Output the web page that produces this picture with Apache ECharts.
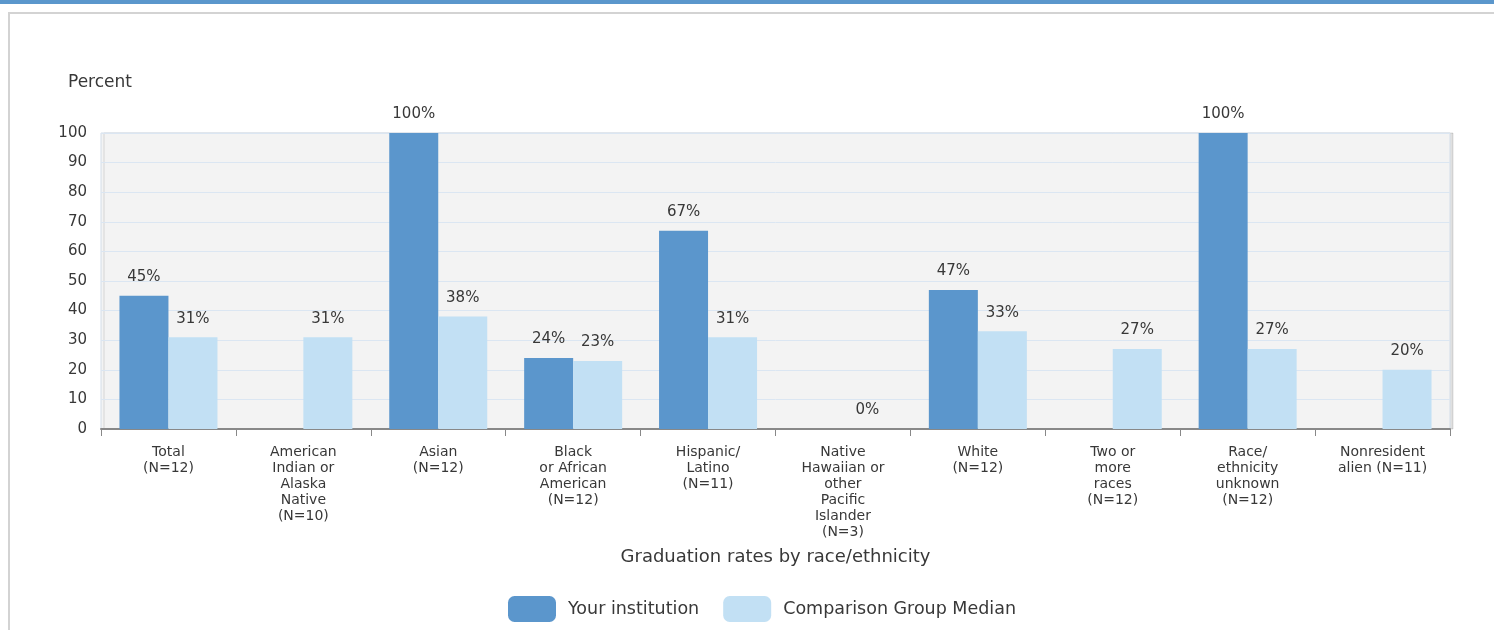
<!DOCTYPE html>
<html>
<head>
<meta charset="utf-8">
<script src="https://cdn.jsdelivr.net/npm/echarts@6/dist/echarts.min.js"></script>
<style>
html,body{margin:0;padding:0;background:#fff;}
#chart{width:1494px;height:630px;}
</style>
</head>
<body>
<div id="chart"></div>
<script>
const categories = [
  "Total\n(N=12)",
  "American\nIndian or\nAlaska\nNative\n(N=10)",
  "Asian\n(N=12)",
  "Black\nor African\nAmerican\n(N=12)",
  "Hispanic/\nLatino\n(N=11)",
  "Native\nHawaiian or\nother\nPacific\nIslander\n(N=3)",
  "White\n(N=12)",
  "Two or\nmore\nraces\n(N=12)",
  "Race/\nethnicity\nunknown\n(N=12)",
  "Nonresident\nalien (N=11)"
];
const yourInstitution = [45, null, 100, 24, 67, null, 47, null, 100, null];
const comparisonMedian = [31, 31, 38, 23, 31, 0, 33, 27, 27, 20];
const seriesNames = ["Your institution", "Comparison Group Median"];
const xAxisTitle = "Graduation rates by race/ethnicity";
const yAxisTitle = "Percent";

const FONT = '"DejaVu Sans", Verdana, sans-serif';
const TXT = '#383838';
const chart = echarts.init(document.getElementById('chart'), null, {renderer: 'canvas'});

const labelCfg = {
  show: true,
  position: 'top',
  distance: 11,
  formatter: p => p.value + '%',
  fontFamily: FONT,
  fontSize: 15,
  color: TXT
};

chart.setOption({
  animation: false,
  backgroundColor: '#fff',
  textStyle: {fontFamily: FONT},
  graphic: [
    {type: 'rect', shape: {x: 0, y: 0, width: 1494, height: 4}, style: {fill: '#5b97cc'}, silent: true},
    {type: 'line', shape: {x1: 9, y1: 13, x2: 1494, y2: 13}, style: {stroke: '#d3d3d3', lineWidth: 2}, silent: true},
    {type: 'line', shape: {x1: 9, y1: 12, x2: 9, y2: 630}, style: {stroke: '#d3d3d3', lineWidth: 2}, silent: true}
  ],
  title: {
    text: yAxisTitle,
    left: 68,
    top: 74,
    padding: 0,
    textStyle: {fontFamily: FONT, fontSize: 17, fontWeight: 'normal', color: TXT}
  },
  legend: {
    data: seriesNames,
    left: 508,
    top: 596,
    padding: 0,
    itemWidth: 48,
    itemHeight: 26,
    itemGap: 24,
    icon: 'roundRect',
    textStyle: {fontFamily: FONT, fontSize: 17.5, color: TXT, padding: [0, 0, 0, 7]}
  },
  grid: {
    left: 101,
    right: 44,
    top: 133,
    bottom: 201,
    show: true,
    backgroundColor: '#f3f3f3',
    borderColor: '#d3dde8',
    borderWidth: 1,
    shadowColor: 'rgba(0,0,0,0.12)',
    shadowBlur: 0,
    shadowOffsetX: 3,
    shadowOffsetY: 0
  },
  xAxis: {
    type: 'category',
    data: categories,
    name: xAxisTitle,
    nameLocation: 'middle',
    nameGap: 119,
    nameTextStyle: {fontFamily: FONT, fontSize: 18, color: TXT},
    axisLine: {show: true, lineStyle: {color: '#888', width: 2}},
    axisTick: {show: true, length: 7, lineStyle: {color: '#888', width: 1}},
    axisLabel: {
      interval: 0,
      fontFamily: FONT,
      fontSize: 14,
      lineHeight: 16,
      color: TXT,
      margin: 15
    },
    splitLine: {show: false}
  },
  yAxis: {
    type: 'value',
    min: 0,
    max: 100,
    interval: 10,
    axisLine: {show: false},
    axisTick: {show: false},
    axisLabel: {fontFamily: FONT, fontSize: 15, color: TXT, margin: 14},
    splitLine: {show: true, lineStyle: {color: '#dbe6f2', width: 1}}
  },
  series: [
    {
      name: seriesNames[0],
      type: 'bar',
      data: yourInstitution,
      barWidth: 49,
      barGap: '0%',
      itemStyle: {color: '#5b96cc'},
      label: labelCfg
    },
    {
      name: seriesNames[1],
      type: 'bar',
      data: comparisonMedian,
      barWidth: 49,
      barGap: '0%',
      itemStyle: {color: '#c2e0f4'},
      label: labelCfg
    }
  ]
});
</script>
</body>
</html>
